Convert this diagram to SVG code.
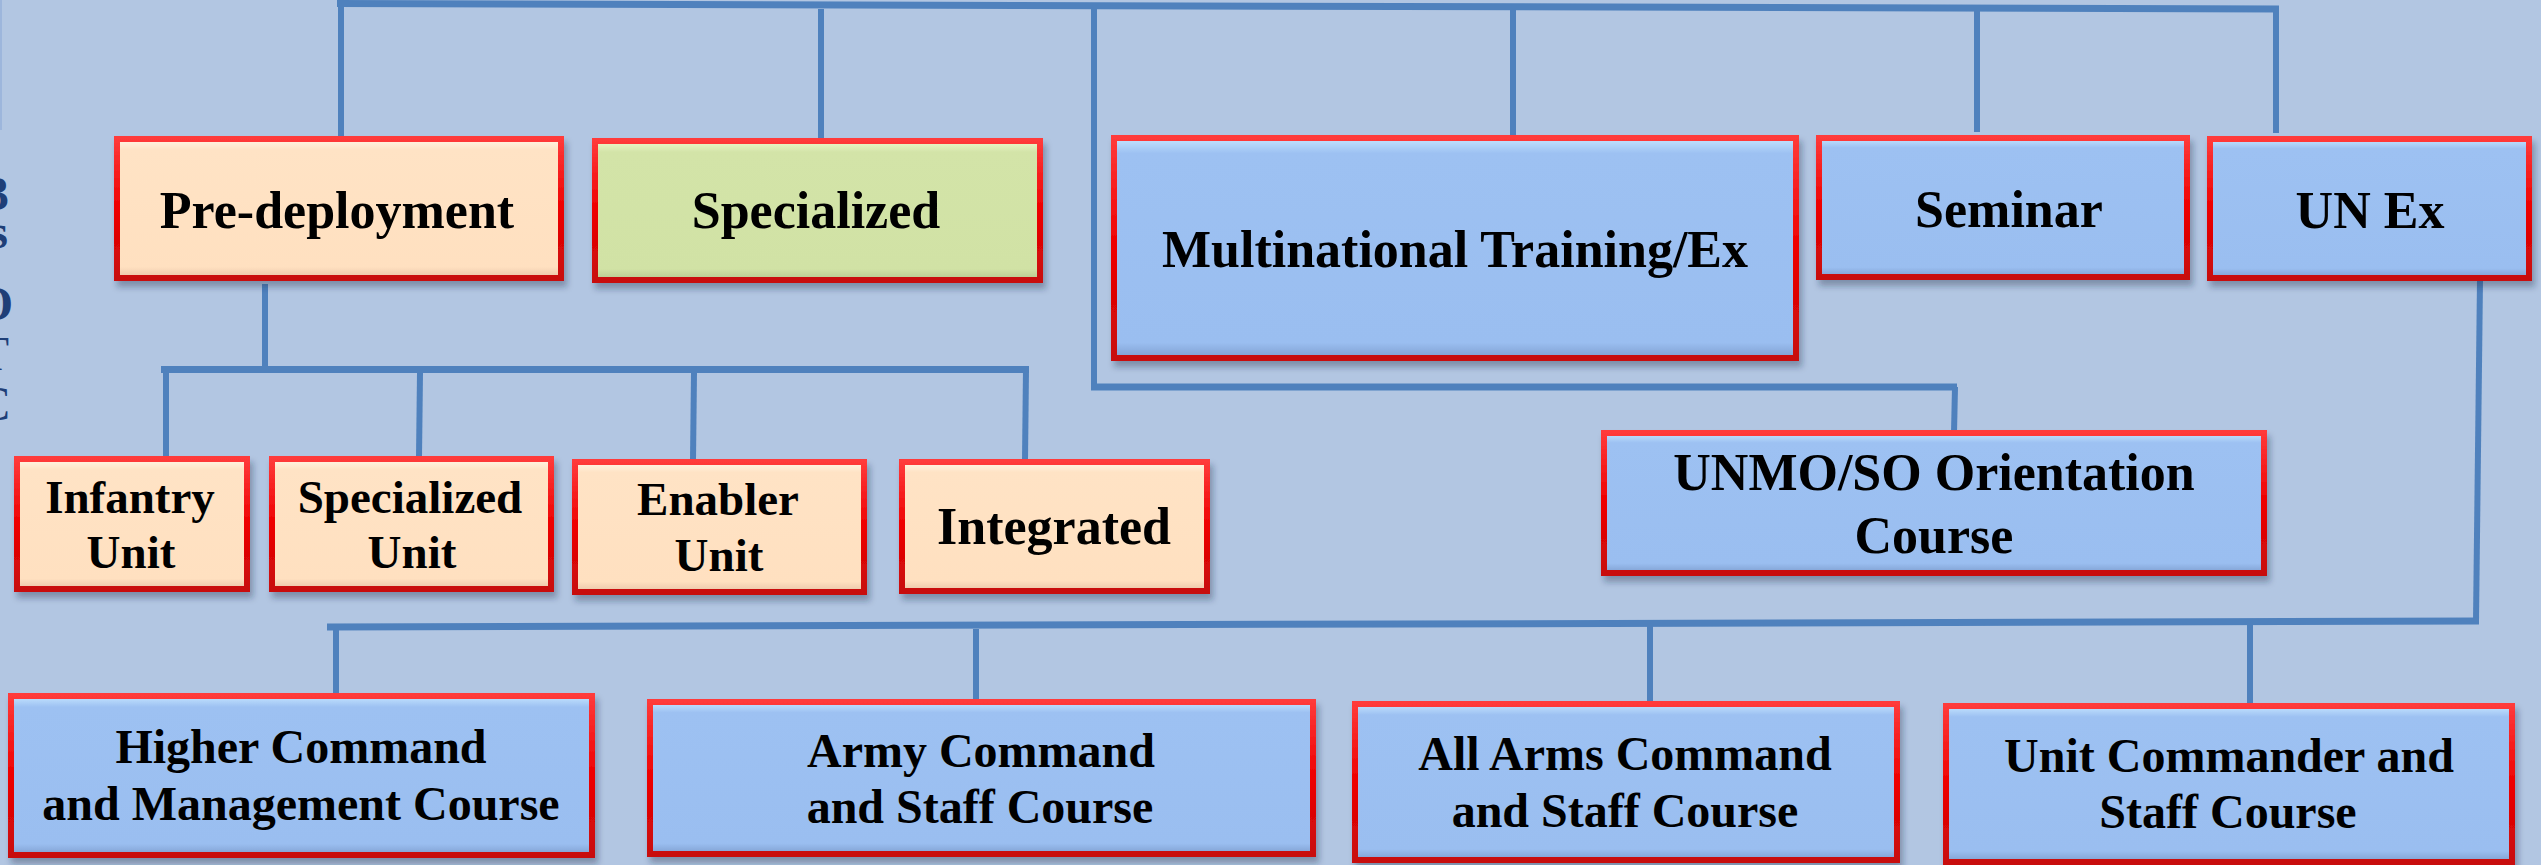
<svg xmlns="http://www.w3.org/2000/svg" width="2541" height="865" viewBox="0 0 2541 865">
<style>
.bg{fill:#B2C6E2}
.ln{stroke:#4F81BD;stroke-width:6;fill:none;stroke-linecap:butt}
.bus{stroke:#4F81BD;stroke-width:7;fill:none}
.box{stroke:url(#red);stroke-width:6;filter:url(#sh)}
.peach{fill:url(#gPeach)}
.green{fill:url(#gGreen)}
.blue{fill:url(#gBlue)}
.t{font-family:"Liberation Serif","Times New Roman",serif;font-weight:bold;fill:#000;text-anchor:middle}
.t52{font-size:52px}
.t47{font-size:47px}
.t48{font-size:48px}
.edge{font-family:"Liberation Serif","Times New Roman",serif;font-size:48px;fill:#1F3F78;text-anchor:end}
</style>
<defs>
<filter id="sh" x="-5%" y="-5%" width="115%" height="125%">
<feDropShadow dx="3" dy="6" stdDeviation="3" flood-color="#1a2a44" flood-opacity="0.35"/>
</filter>
<linearGradient id="red" x1="0" y1="0" x2="0" y2="1">
<stop offset="0" stop-color="#FF3A3A"/>
<stop offset="0.5" stop-color="#EE0000"/>
<stop offset="1" stop-color="#C80C0C"/>
</linearGradient>
<linearGradient id="gPeach" x1="0" y1="0" x2="0" y2="1">
<stop offset="0" stop-color="#FFF6E6"/>
<stop offset="0.08" stop-color="#FFE3C5"/>
<stop offset="0.92" stop-color="#FFE0C0"/>
<stop offset="1" stop-color="#E9C4A8"/>
</linearGradient>
<linearGradient id="gGreen" x1="0" y1="0" x2="0" y2="1">
<stop offset="0" stop-color="#EEF8CC"/>
<stop offset="0.08" stop-color="#D3E4A8"/>
<stop offset="0.92" stop-color="#D1E2A5"/>
<stop offset="1" stop-color="#B6C78E"/>
</linearGradient>
<linearGradient id="gBlue" x1="0" y1="0" x2="0" y2="1">
<stop offset="0" stop-color="#C4E4FF"/>
<stop offset="0.07" stop-color="#9DC1F2"/>
<stop offset="0.93" stop-color="#9ABEF0"/>
<stop offset="1" stop-color="#7F9FD0"/>
</linearGradient>
</defs>
<rect class="bg" x="0" y="0" width="2541" height="865"/>
<line x1="1" y1="0" x2="1" y2="130" stroke="#9DB6DC" stroke-width="2"/>
<g id="edge-text">
<text class="edge"><tspan x="9" y="210" font-weight="bold">3</tspan><tspan x="8" y="248" font-weight="bold">s</tspan><tspan x="13" y="320" font-weight="bold">O</tspan><tspan x="9" y="370">T</tspan><tspan x="10" y="420">C</tspan></text>
</g>
<g id="connectors">
<line class="bus" x1="337" y1="3.5" x2="2279" y2="9"/>
<line class="ln" x1="341" y1="7" x2="341" y2="137"/>
<line class="ln" x1="821" y1="9" x2="821" y2="139"/>
<line class="ln" x1="1513" y1="9" x2="1513" y2="137"/>
<line class="ln" x1="1977" y1="10" x2="1977" y2="132"/>
<line class="ln" x1="2276" y1="9" x2="2276" y2="133"/>
<polyline class="ln" points="1094,4 1094,387"/>
<line class="bus" x1="1091" y1="387" x2="1957" y2="387"/>
<line class="ln" x1="1955" y1="387" x2="1954" y2="433"/>
<line class="ln" x1="265" y1="284" x2="265" y2="366"/>
<line class="bus" x1="161" y1="369.5" x2="1029" y2="369.5"/>
<line class="ln" x1="166" y1="373" x2="166" y2="457"/>
<line class="ln" x1="420" y1="373" x2="419" y2="457"/>
<line class="ln" x1="694" y1="373" x2="693" y2="460"/>
<line class="ln" x1="1026" y1="369" x2="1025" y2="460"/>
<line class="ln" x1="2480" y1="280" x2="2476" y2="621"/>
<line class="bus" x1="2479" y1="621" x2="327" y2="627"/>
<line class="ln" x1="336" y1="630" x2="336" y2="697"/>
<line class="ln" x1="976" y1="629" x2="976" y2="703"/>
<line class="ln" x1="1650" y1="624" x2="1650" y2="705"/>
<line class="ln" x1="2250" y1="623" x2="2250" y2="707"/>
</g>
<g id="pre-deployment">
<rect class="box peach" x="117" y="139" width="444" height="139"/>
<text class="t t52" x="337" y="228">Pre-deployment</text>
</g>
<g id="specialized">
<rect class="box green" x="595" y="141" width="445" height="139"/>
<text class="t t52" x="816" y="228">Specialized</text>
</g>
<g id="multinational">
<rect class="box blue" x="1114" y="138" width="682" height="220"/>
<text class="t t52" x="1455" y="267">Multinational Training/Ex</text>
</g>
<g id="seminar">
<rect class="box blue" x="1819" y="138" width="368" height="139"/>
<text class="t t52" x="2009" y="227">Seminar</text>
</g>
<g id="un-ex">
<rect class="box blue" x="2210" y="139" width="319" height="139"/>
<text class="t t52" x="2370" y="228">UN Ex</text>
</g>
<g id="infantry-unit">
<rect class="box peach" x="17" y="459" width="230" height="130"/>
<text class="t t47" x="130" y="513">Infantry</text>
<text class="t t47" x="131" y="568">Unit</text>
</g>
<g id="specialized-unit">
<rect class="box peach" x="272" y="459" width="279" height="130"/>
<text class="t t47" x="410" y="513">Specialized</text>
<text class="t t47" x="412" y="568">Unit</text>
</g>
<g id="enabler-unit">
<rect class="box peach" x="575" y="462" width="289" height="130"/>
<text class="t t47" x="718" y="515">Enabler</text>
<text class="t t47" x="719" y="571">Unit</text>
</g>
<g id="integrated">
<rect class="box peach" x="902" y="462" width="305" height="129"/>
<text class="t t52" x="1054" y="544">Integrated</text>
</g>
<g id="unmo-so">
<rect class="box blue" x="1604" y="433" width="660" height="140"/>
<text class="t t52" x="1934" y="490">UNMO/SO Orientation</text>
<text class="t t52" x="1934" y="553">Course</text>
</g>
<g id="higher-command">
<rect class="box blue" x="11" y="696" width="581" height="159"/>
<text class="t t48" x="301" y="763">Higher Command</text>
<text class="t t48" x="301" y="820">and Management Course</text>
</g>
<g id="army-command">
<rect class="box blue" x="650" y="702" width="663" height="152"/>
<text class="t t48" x="981" y="767">Army Command</text>
<text class="t t48" x="980" y="823">and Staff Course</text>
</g>
<g id="all-arms">
<rect class="box blue" x="1355" y="704" width="542" height="156"/>
<text class="t t48" x="1625" y="770">All Arms Command</text>
<text class="t t48" x="1625" y="827">and Staff Course</text>
</g>
<g id="unit-commander">
<rect class="box blue" x="1946" y="706" width="566" height="156"/>
<text class="t t48" x="2229" y="772">Unit Commander and</text>
<text class="t t48" x="2228" y="828">Staff Course</text>
</g>
</svg>
